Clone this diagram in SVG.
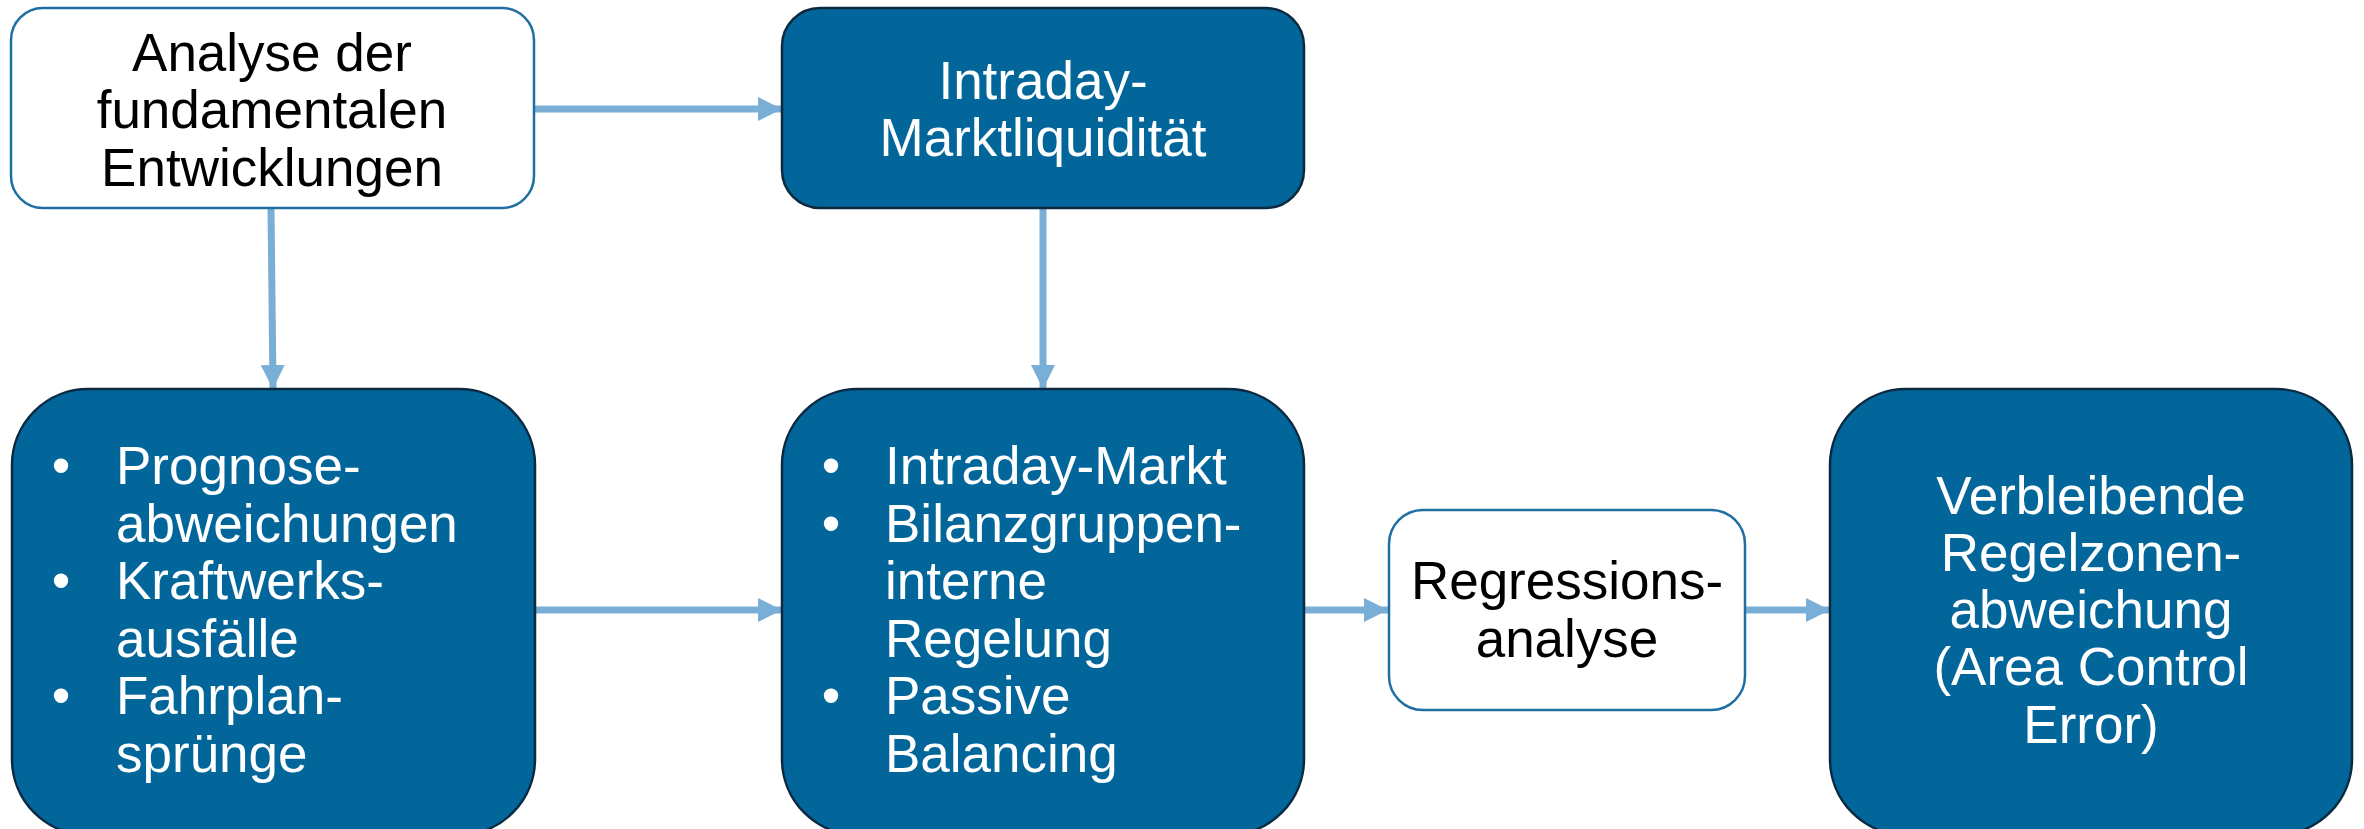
<svg xmlns="http://www.w3.org/2000/svg" width="2364" height="829" viewBox="0 0 2364 829">
<defs>
<style>
.light{fill:#ffffff;stroke:#1f6fa3;stroke-width:2.5}
.dark{fill:#02669a;stroke:#0b2a42;stroke-width:2.5}
text{font-family:"Liberation Sans",Arial,sans-serif;font-size:53px}
.tb{fill:#000000;text-anchor:middle}
.tw{fill:#ffffff;text-anchor:middle}
.tl{fill:#ffffff}
.conn{stroke:#79afd6;stroke-width:7;fill:none}
</style>
<marker id="ah" viewBox="0 0 24 24" refX="24" refY="12" markerWidth="24" markerHeight="24" markerUnits="userSpaceOnUse" orient="auto">
<path d="M0,0 L24,12 L0,24 Z" fill="#79afd6"/>
</marker>
</defs>
<rect width="2364" height="829" fill="#ffffff"/>
<g id="connectors">
<line class="conn" x1="534" y1="109" x2="782" y2="109" marker-end="url(#ah)"/>
<line class="conn" x1="271" y1="208" x2="273" y2="389" marker-end="url(#ah)"/>
<line class="conn" x1="1043" y1="208" x2="1043" y2="389" marker-end="url(#ah)"/>
<line class="conn" x1="535" y1="610" x2="782" y2="610" marker-end="url(#ah)"/>
<line class="conn" x1="1304" y1="610" x2="1388" y2="610" marker-end="url(#ah)"/>
<line class="conn" x1="1745" y1="610" x2="1830" y2="610" marker-end="url(#ah)"/>
</g>
<g id="node-analyse">
<rect class="light" x="11" y="8" width="523" height="200" rx="32" ry="32"/>
<text class="tb" x="272" y="71">Analyse der</text>
<text class="tb" x="272" y="128">fundamentalen</text>
<text class="tb" x="272" y="186">Entwicklungen</text>
</g>
<g id="node-liquiditaet">
<rect class="dark" x="782" y="8" width="522" height="200" rx="38" ry="38"/>
<text class="tw" x="1043" y="99">Intraday-</text>
<text class="tw" x="1043" y="156">Marktliquidität</text>
</g>
<g id="node-prognose">
<rect class="dark" x="12" y="389" width="523" height="446" rx="76" ry="76"/>
<text class="tl" x="61" y="484" text-anchor="middle">•</text>
<text class="tl" x="116" y="484">Prognose-</text>
<text class="tl" x="116" y="542">abweichungen</text>
<text class="tl" x="61" y="599" text-anchor="middle">•</text>
<text class="tl" x="116" y="599">Kraftwerks-</text>
<text class="tl" x="116" y="657">ausfälle</text>
<text class="tl" x="61" y="714" text-anchor="middle">•</text>
<text class="tl" x="116" y="714">Fahrplan-</text>
<text class="tl" x="116" y="772">sprünge</text>
</g>
<g id="node-intraday">
<rect class="dark" x="782" y="389" width="522" height="446" rx="76" ry="76"/>
<text class="tl" x="831" y="484" text-anchor="middle">•</text>
<text class="tl" x="885" y="484">Intraday-Markt</text>
<text class="tl" x="831" y="542" text-anchor="middle">•</text>
<text class="tl" x="885" y="542">Bilanzgruppen-</text>
<text class="tl" x="885" y="599">interne</text>
<text class="tl" x="885" y="657">Regelung</text>
<text class="tl" x="831" y="714" text-anchor="middle">•</text>
<text class="tl" x="885" y="714">Passive</text>
<text class="tl" x="885" y="772">Balancing</text>
</g>
<g id="node-regression">
<rect class="light" x="1389" y="510" width="356" height="200" rx="34" ry="34"/>
<text class="tb" x="1567" y="599">Regressions-</text>
<text class="tb" x="1567" y="657">analyse</text>
</g>
<g id="node-ace">
<rect class="dark" x="1830" y="389" width="522" height="446" rx="76" ry="76"/>
<text class="tw" x="2091" y="514">Verbleibende</text>
<text class="tw" x="2091" y="571">Regelzonen-</text>
<text class="tw" x="2091" y="628">abweichung</text>
<text class="tw" x="2091" y="685">(Area Control</text>
<text class="tw" x="2091" y="743">Error)</text>
</g>
</svg>
